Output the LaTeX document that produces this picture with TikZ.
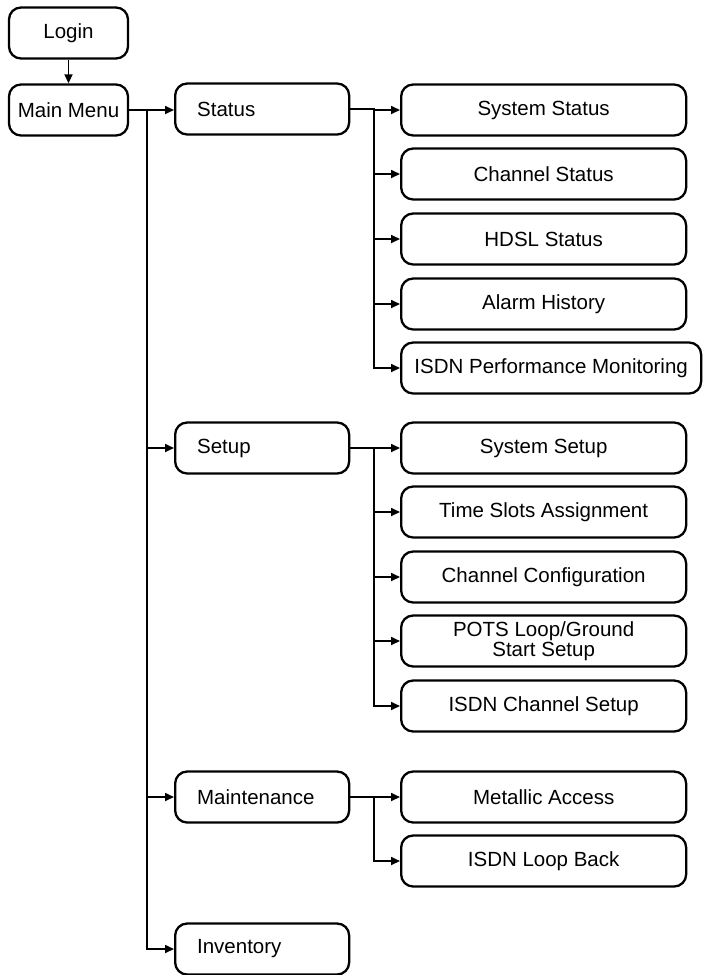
\documentclass[tikz,border=0pt]{standalone}
\usepackage{fontspec}
\setmainfont{Liberation Sans}
\usetikzlibrary{arrows.meta}
\tikzset{
  menubox/.style={draw, line width=2.3pt, rounded corners=12pt, minimum height=51pt,
    inner sep=0pt, font=\fontsize{20.5}{20.5}\selectfont},
  topbox/.style={menubox, minimum width=119pt, align=center},
  subbox/.style={menubox, anchor=west, text width=130pt, inner xsep=22pt, minimum width=174pt, align=left},
  itembox/.style={menubox, anchor=west, minimum width=285pt, align=center},
  link/.style={line width=1.7pt},
  arr/.style={link, -{Triangle[length=9pt,width=8pt]}}
}
\begin{document}
\begin{tikzpicture}[x=1pt,y=-1pt]
	\useasboundingbox (0,0) rectangle (702,975);
	\node[topbox] (login) at (68.5,33) {Login};
	\node[topbox] (main) at (68.5,110) {Main Menu};
	\node[subbox] (status) at (174,109) {Status};
	\node[subbox] (setup) at (174,448) {Setup};
	\node[subbox] (maint) at (174,797) {Maintenance};
	\node[subbox] (inv) at (174,949) {Inventory};
	\node[itembox] (sys) at (400,110) {System Status};
	\node[itembox] (chan) at (400,174) {Channel Status};
	\node[itembox] (hdsl) at (400,239) {HDSL Status};
	\node[itembox] (alarm) at (400,304) {Alarm History};
	\node[itembox, minimum width=300pt] (ipm) at (400,368) {ISDN Performance Monitoring};
	\node[itembox] (syssetup) at (400,448) {System Setup};
	\node[itembox] (slots) at (400,512) {Time Slots Assignment};
	\node[itembox] (chconf) at (400,577) {Channel Configuration};
	\node[itembox] (pots) at (400,641) {POTS Loop/Ground\\Start Setup};
	\node[itembox] (isdnch) at (400,706) {ISDN Channel Setup};
	\node[itembox] (metal) at (400,797) {Metallic Access};
	\node[itembox] (loop) at (400,861) {ISDN Loop Back};
	\coordinate (ta) at (147,0);
	\coordinate (tb) at (374,0);
	\draw[arr] (login) -- (main);
	\draw[arr] (main.east) -- (status.west |- main.east);
	\foreach \n in {setup,maint,inv}
		\draw[arr] (ta |- main.east) |- (\n.west);
	\foreach \n in {sys,chan,hdsl,alarm,ipm}
		\draw[arr] (status.east) -- (tb |- status.east) |- (\n.west);
	\foreach \n in {syssetup,slots,chconf,pots,isdnch}
		\draw[arr] (setup.east) -- (tb |- setup.east) |- (\n.west);
	\foreach \n in {metal,loop}
		\draw[arr] (maint.east) -- (tb |- maint.east) |- (\n.west);
\end{tikzpicture}
\end{document}
